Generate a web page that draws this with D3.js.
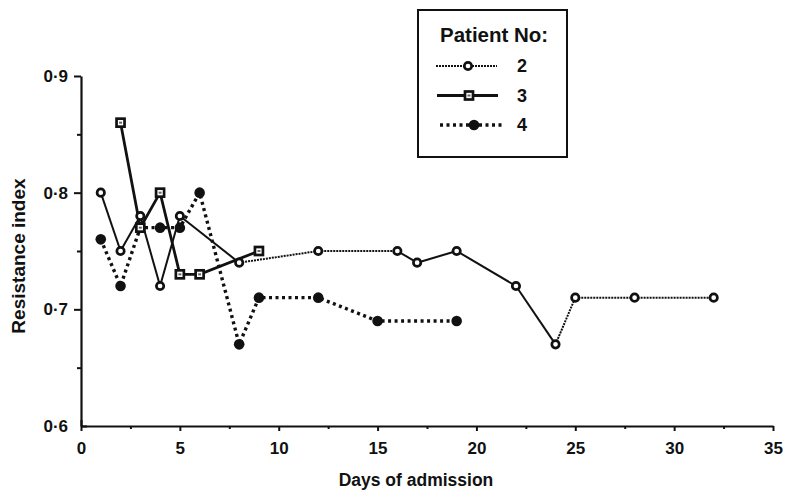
<!DOCTYPE html>
<html>
<head>
<meta charset="utf-8">
<script src="https://cdn.jsdelivr.net/npm/d3@7"></script>
<style>
  body { margin: 0; background: #fff; }
  svg text { font-family: "Liberation Sans", Arial, sans-serif; fill: #111; font-weight: bold; }
</style>
</head>
<body>
<div id="viz"></div>
<script>
// data
var p2Days = [1, 2, 3, 4, 5, 8, 12, 16, 17, 19, 22, 24, 25, 28, 32];
var p2Ri   = [0.80, 0.75, 0.78, 0.72, 0.78, 0.74, 0.75, 0.75, 0.74, 0.75, 0.72, 0.67, 0.71, 0.71, 0.71];
var p3Days = [2, 3, 4, 5, 6, 9];
var p3Ri   = [0.86, 0.77, 0.80, 0.73, 0.73, 0.75];
var p4Days = [1, 2, 3, 4, 5, 6, 8, 9, 12, 15, 19];
var p4Ri   = [0.76, 0.72, 0.77, 0.77, 0.77, 0.80, 0.67, 0.71, 0.71, 0.69, 0.69];
var xTicks = [0, 5, 10, 15, 20, 25, 30, 35];
var yTicks = [0.6, 0.7, 0.8, 0.9];
var patients = ["2", "3", "4"];

// patient 2 segments drawn with the fine dotted line (index of first point)
var p2DottedFrom = [5, 6, 11, 12, 13];

var width = 786, height = 490;
var margin = {top: 76, right: 13, bottom: 64, left: 81};

var svg = d3.select('#viz').append('svg')
    .attr('width', width)
    .attr('height', height);

var x = d3.scaleLinear().domain([0, 35]).range([margin.left, width - margin.right]);
var y = d3.scaleLinear().domain([0.6, 0.9]).range([height - margin.bottom, margin.top]);

function fmt(d) { return d.toFixed(1).replace('.', '\u00b7'); }

// axes
var xAxis = svg.append('g')
    .attr('transform', 'translate(0,' + y(0.6) + ')')
    .call(d3.axisBottom(x).tickValues(xTicks).tickSize(5).tickSizeOuter(0));
xAxis.selectAll('g.tick').filter(function(d){ return d == 0; }).select('line').attr('y1', -6);
svg.append('g')
    .attr('transform', 'translate(0,' + y(0.6) + ')')
    .call(d3.axisBottom(x).tickValues(d3.range(2.5, 35, 5)).tickSize(3).tickFormat('').tickSizeOuter(0))
    .select('.domain').remove();

var yAxis = svg.append('g')
    .attr('transform', 'translate(' + x(0) + ',0)')
    .call(d3.axisLeft(y).tickValues(yTicks).tickFormat(fmt).tickSize(7).tickSizeOuter(0));
svg.append('g')
    .attr('transform', 'translate(' + x(0) + ',0)')
    .call(d3.axisLeft(y).tickValues([0.65, 0.75, 0.85]).tickSize(4).tickFormat('').tickSizeOuter(0))
    .select('.domain').remove();
yAxis.selectAll('g.tick').filter(function(d){ return d == 0.6; }).select('line').attr('x2', 6);

svg.selectAll('.domain').attr('stroke', '#111').attr('stroke-width', 2.2);
svg.selectAll('.tick line').attr('stroke', '#111').attr('stroke-width', 2);
xAxis.selectAll('text').attr('y', 28).attr('dy', 0).style('font-size', '17px');
yAxis.selectAll('text').attr('x', -13).style('font-size', '17px');

svg.append('text')
    .attr('x', 416).attr('y', 486)
    .attr('text-anchor', 'middle')
    .style('font-size', '17.5px')
    .text('Days of admission');
svg.append('text')
    .attr('transform', 'translate(25,256) rotate(-90)')
    .attr('text-anchor', 'middle')
    .style('font-size', '19px')
    .text('Resistance index');

// lines
var line = d3.line().x(function(d){ return x(d[0]); }).y(function(d){ return y(d[1]); });
var p2 = d3.zip(p2Days, p2Ri), p3 = d3.zip(p3Days, p3Ri), p4 = d3.zip(p4Days, p4Ri);

var plot = svg.append('g');
for (var i = 0; i < p2.length - 1; i++) {
  var dotted = p2DottedFrom.indexOf(i) >= 0;
  plot.append('path')
      .attr('d', line([p2[i], p2[i + 1]]))
      .attr('fill', 'none')
      .attr('stroke', '#111')
      .attr('stroke-width', 2)
      .attr('stroke-dasharray', dotted ? '2,1' : null);
}
plot.append('path')
    .attr('d', line(p3))
    .attr('fill', 'none').attr('stroke', '#111').attr('stroke-width', 2.8);
plot.append('path')
    .attr('d', line(p4))
    .attr('fill', 'none').attr('stroke', '#111').attr('stroke-width', 3.4)
    .attr('stroke-dasharray', '3,3.5');

// markers
function circleOpen(g, cx, cy) {
  g.append('circle').attr('cx', cx).attr('cy', cy).attr('r', 3.7)
      .attr('fill', '#fff').attr('stroke', '#111').attr('stroke-width', 2.7);
}
function squareMark(g, cx, cy) {
  g.append('rect').attr('x', cx - 4).attr('y', cy - 4).attr('width', 8).attr('height', 8)
      .attr('fill', '#fff').attr('stroke', '#111').attr('stroke-width', 2.7);
  g.append('rect').attr('x', cx - 1.5).attr('y', cy - 1).attr('width', 3).attr('height', 2)
      .attr('fill', '#666');
}
function circleFill(g, cx, cy) {
  g.append('circle').attr('cx', cx).attr('cy', cy).attr('r', 5.3).attr('fill', '#111');
}
p4.forEach(function(d){ circleFill(plot, x(d[0]), y(d[1])); });
p3.forEach(function(d){ squareMark(plot, x(d[0]), y(d[1])); });
p2.forEach(function(d){ circleOpen(plot, x(d[0]), y(d[1])); });

// legend
var lg = svg.append('g').attr('transform', 'translate(418,10)');
lg.append('rect').attr('x', 0).attr('y', 0).attr('width', 149).attr('height', 147)
    .attr('fill', '#fff').attr('stroke', '#111').attr('stroke-width', 2);
lg.append('text').attr('x', 22).attr('y', 32).style('font-size', '20.5px').text('Patient No:');
var styles = [
  {w: 1.8, dash: '2,1', mark: circleOpen, x1: 18, x2: 79, mx: 50},
  {w: 2.8, dash: null, mark: squareMark, x1: 19, x2: 80, mx: 51},
  {w: 3.4, dash: '3,3.5', mark: circleFill, x1: 22, x2: 84, mx: 56}
];
patients.forEach(function(p, k) {
  var yy = 56 + k * 29.5;
  var s = styles[k];
  lg.append('line').attr('x1', s.x1).attr('x2', s.x2)
      .attr('y1', yy).attr('y2', yy)
      .attr('stroke', '#111').attr('stroke-width', s.w)
      .attr('stroke-dasharray', s.dash);
  s.mark(lg, s.mx, yy);
  lg.append('text').attr('x', 99).attr('y', yy + 6).style('font-size', '18px').text(p);
});
</script>
</body>
</html>
